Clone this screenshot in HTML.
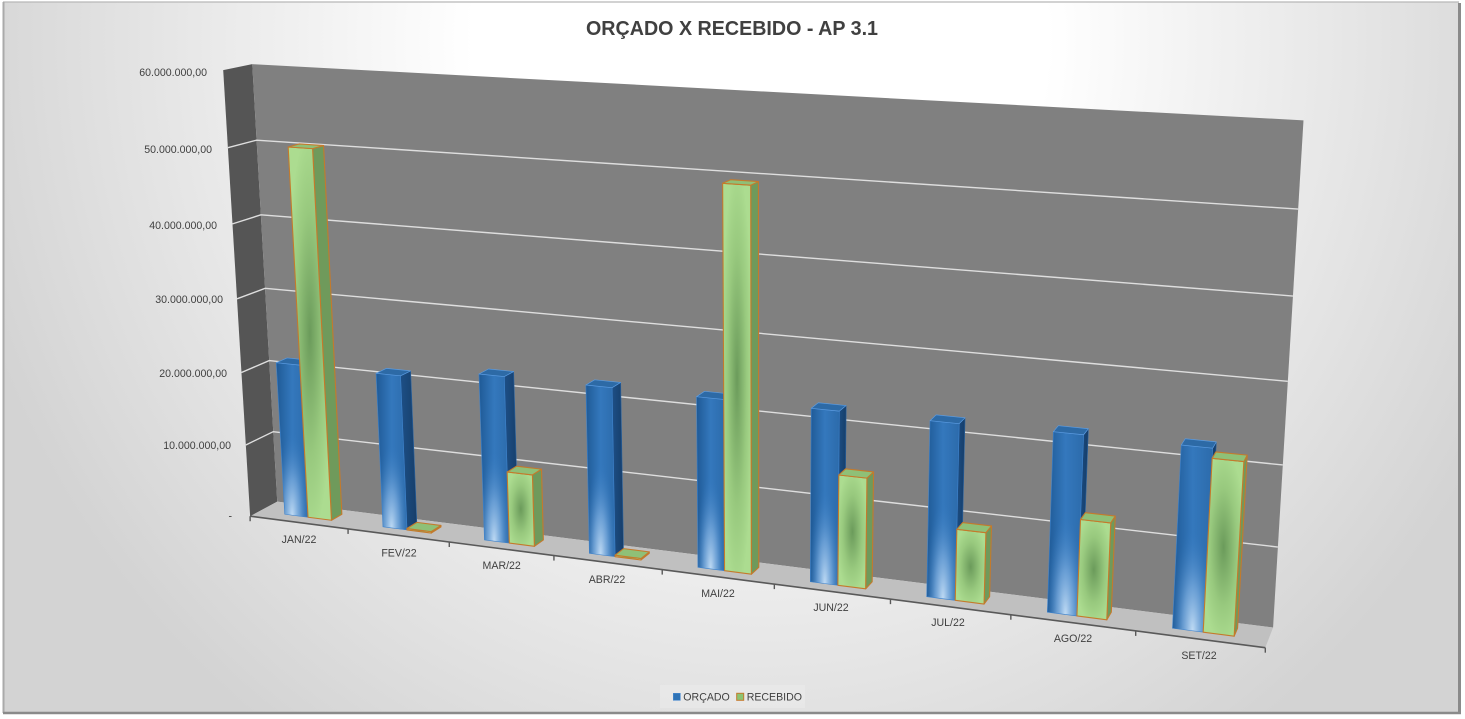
<!DOCTYPE html>
<html><head><meta charset="utf-8">
<style>
html,body{margin:0;padding:0;background:#fff;}
body{width:1465px;height:719px;overflow:hidden;position:relative;}
svg{position:absolute;left:0;top:0;}
text{font-family:"Liberation Sans",sans-serif;}
</style></head><body>
<svg id="c" width="1465" height="719" viewBox="0 0 1465 719" xmlns="http://www.w3.org/2000/svg">
<defs>
 <radialGradient id="bg" gradientUnits="userSpaceOnUse" cx="760" cy="40" r="820" gradientTransform="translate(760 40) scale(1 1.05) translate(-760 -40)">
  <stop offset="0" stop-color="#ffffff"/><stop offset="0.35" stop-color="#ffffff"/><stop offset="1" stop-color="#d3d3d3"/>
 </radialGradient>
 <linearGradient id="bf" x1="0" y1="0" x2="1" y2="0">
  <stop offset="0" stop-color="#1f5a96"/><stop offset="0.5" stop-color="#3478bd"/><stop offset="1" stop-color="#2c6bab"/>
 </linearGradient>
 <radialGradient id="bh" cx="0.5" cy="1" r="0.55">
  <stop offset="0" stop-color="#c3ddf5" stop-opacity="1"/><stop offset="0.45" stop-color="#7eaedf" stop-opacity="0.7"/><stop offset="1" stop-color="#3478bd" stop-opacity="0"/>
 </radialGradient>
 <linearGradient id="bs" x1="0" y1="0" x2="1" y2="0">
  <stop offset="0" stop-color="#1d4f86"/><stop offset="1" stop-color="#163e6a"/>
 </linearGradient>
 <radialGradient id="gf" cx="0.5" cy="0.5" r="0.55">
  <stop offset="0" stop-color="#6b9b5b"/><stop offset="0.6" stop-color="#98c97e"/><stop offset="1" stop-color="#acdc90"/>
 </radialGradient>
</defs>
<rect x="0" y="0" width="1465" height="719" fill="#ffffff"/>
<rect x="3" y="2" width="1456" height="711" fill="url(#bg)"/>
<line x1="3" y1="2" x2="1459" y2="2" stroke="#b8b8b8" stroke-width="1.2"/>
<line x1="3.5" y1="2" x2="3.5" y2="713" stroke="#aaaaaa" stroke-width="2"/>
<line x1="1459.5" y1="3" x2="1459.5" y2="714" stroke="#8a8a8a" stroke-width="3"/>
<line x1="3" y1="713" x2="1461" y2="713" stroke="#8a8a8a" stroke-width="2.5"/>
<g id="chart"></g>
<text x="732" y="35" text-anchor="middle" font-size="20" font-weight="bold" fill="#404040" textLength="292" lengthAdjust="spacingAndGlyphs">ORÇADO X RECEBIDO - AP 3.1</text>
<g font-size="10.6" fill="#404040" text-anchor="end">
 <text x="207" y="75.8">60.000.000,00</text>
 <text x="212" y="152.8">50.000.000,00</text>
 <text x="217" y="228.8">40.000.000,00</text>
 <text x="223" y="302.8">30.000.000,00</text>
 <text x="227" y="377">20.000.000,00</text>
 <text x="231" y="448.8">10.000.000,00</text>
 <text x="232" y="519.5">-</text>
</g>
<g font-size="10.6" fill="#404040" text-anchor="middle">
 <text x="299" y="542.8">JAN/22</text>
 <text x="399" y="556.3">FEV/22</text>
 <text x="501.7" y="568.8">MAR/22</text>
 <text x="607" y="582.8">ABR/22</text>
 <text x="718" y="596.8">MAI/22</text>
 <text x="831" y="610.8">JUN/22</text>
 <text x="948" y="625.8">JUL/22</text>
 <text x="1073" y="641.8">AGO/22</text>
 <text x="1199" y="658.8">SET/22</text>
</g>
<rect x="660" y="685" width="145" height="23" fill="#ebebeb" opacity="0.6"/>
<rect x="673.3" y="693.3" width="7" height="7" fill="#2e73b6" stroke="#4a8ad0" stroke-width="0.6"/>
<text x="683.3" y="700.5" font-size="10.6" fill="#404040">ORÇADO</text>
<rect x="736.7" y="693.3" width="7" height="7" fill="#8cc472" stroke="#c47a2c" stroke-width="1"/>
<text x="746.7" y="700.5" font-size="10.6" fill="#404040">RECEBIDO</text>
</svg>
<script>
(function(){
var P=[[0,6,1,252,65],[0,5,1,257,140],[0,4,1,260,215],[0,3,1,265,288.3],[0,2,1,268.3,360],[0,1,1,275,431.7],[0,0,1,276.7,501.7],
[9,6,1,1304,121],[9,5,1,1298,209],[9,4,1,1293,296],[9,3,1,1288,381],[9,0,1,1273,627],
[0,0,0,250,517],[1,0,0,348,530],[2,0,0,450,541.7],[3,0,0,553,556.7],[5,0,0,774,585],[7,0,0,1011,615],[8,0,0,1135,631],[9,0,0,1265.7,646.7],
[0,6,0,223,71],[0,5,0,228.3,147.3],[0,4,0,232.3,222.7],[0,3,0,236.7,298.3],[0,2,0,241.7,371.7],[0,1,0,246.7,444]];
var n=11,M=[],B=[],i,j;
for(i=0;i<n;i++){var row=[];for(j=0;j<n;j++)row.push(0);M.push(row);B.push(0);}
function add(r,t){for(var i=0;i<n;i++){B[i]+=r[i]*t;for(var j=0;j<n;j++)M[i][j]+=r[i]*r[j];}}
P.forEach(function(p){var X=p[0],Y=p[1],Z=p[2],u=p[3]/1000,v=p[4]/1000;
 add([X,Y,Z,1,0,0,0,0,-u*X,-u*Y,-u*Z],u);
 add([0,0,0,0,X,Y,Z,1,-v*X,-v*Y,-v*Z],v);});
for(var c=0;c<n;c++){var piv=c;for(var r=c+1;r<n;r++)if(Math.abs(M[r][c])>Math.abs(M[piv][c]))piv=r;
 var tm=M[c];M[c]=M[piv];M[piv]=tm;var tb=B[c];B[c]=B[piv];B[piv]=tb;
 for(var r2=c+1;r2<n;r2++){var f=M[r2][c]/M[c][c];for(var k=c;k<n;k++)M[r2][k]-=f*M[c][k];B[r2]-=f*B[c];}}
var x=new Array(n);
for(var r3=n-1;r3>=0;r3--){var s=B[r3];for(var k2=r3+1;k2<n;k2++)s-=M[r3][k2]*x[k2];x[r3]=s/M[r3][r3];}
function pr(X,Y,Z){var w=x[8]*X+x[9]*Y+x[10]*Z+1;return[1000*(x[0]*X+x[1]*Y+x[2]*Z+x[3])/w,1000*(x[4]*X+x[5]*Y+x[6]*Z+x[7])/w];}
var NS="http://www.w3.org/2000/svg",g=document.getElementById('chart');
function el(name,attrs){var e=document.createElementNS(NS,name);for(var k in attrs)e.setAttribute(k,attrs[k]);g.appendChild(e);return e;}
function pts(a){return a.map(function(p){return p[0].toFixed(2)+','+p[1].toFixed(2);}).join(' ');}
function poly(a,attrs){attrs.points=pts(a);return el('polygon',attrs);}
// walls
poly([pr(0,0,0),pr(0,6,0),pr(0,6,1),pr(0,0,1)],{fill:'#555555'});
poly([pr(0,0,1),pr(0,6,1),pr(9,6,1),pr(9,0,1)],{fill:'#808080'});
poly([pr(0,0,0),pr(9,0,0),pr(9,0,1),pr(0,0,1)],{fill:'#c0c0c0'});
for(var k=1;k<=5;k++){el('polyline',{points:pts([pr(0,k,0),pr(0,k,1),pr(9,k,1)]),fill:'none',stroke:'#dedede','stroke-width':1.4});}
var a0=pr(0,0,0),a9=pr(9,0,0);
el('line',{x1:a0[0],y1:a0[1],x2:a9[0],y2:a9[1],stroke:'#595959','stroke-width':1.6});
for(k=0;k<=9;k++){var t=pr(k,0,0);el('line',{x1:t[0],y1:t[1],x2:t[0],y2:t[1]+5,stroke:'#595959','stroke-width':1.4});}
// bars
var A=0.26,W=0.24,Z0=0.35,Z1=0.75;
var blueT=[362.7,373.3,374,385,396.7,408.3,420.7,431.7,445];
var greenT=[147,null,472,null,183.3,475,529.3,519.5,458.3];
function solveY(X,Z,v){var lo=0,hi=7;for(var it=0;it<50;it++){var m=(lo+hi)/2;if(pr(X,m,Z)[1]>v)lo=m;else hi=m;}return (lo+hi)/2;}
function bar(x0,x1,Y,blue){
 var f=[pr(x0,0,Z0),pr(x1,0,Z0),pr(x1,Y,Z0),pr(x0,Y,Z0)];
 var sd=[pr(x1,0,Z0),pr(x1,0,Z1),pr(x1,Y,Z1),pr(x1,Y,Z0)];
 var tp=[pr(x0,Y,Z0),pr(x1,Y,Z0),pr(x1,Y,Z1),pr(x0,Y,Z1)];
 if(blue){
  poly(sd,{fill:'url(#bs)',stroke:'#2a64a3','stroke-width':0.6,'stroke-linejoin':'round'});
  poly(f,{fill:'url(#bf)'});
  poly(f,{fill:'url(#bh)',stroke:'#3f83cc','stroke-width':0.6});
  poly(tp,{fill:'#2d6aa6',stroke:'#5b9be0','stroke-width':0.7,'stroke-linejoin':'round'});
 } else {
  poly(sd,{fill:'#6f9a5b',stroke:'#c47a2c','stroke-width':1.1,'stroke-linejoin':'round'});
  poly(f,{fill:'url(#gf)',stroke:'#c47a2c','stroke-width':1.1,'stroke-linejoin':'round'});
  poly(tp,{fill:'#8fc077',stroke:'#c47a2c','stroke-width':1.1,'stroke-linejoin':'round'});
 }
}
for(i=0;i<9;i++){
 var xb=i+A,xg=i+A+W,xe=i+A+2*W;
 var yb=solveY(xb,Z0,blueT[i]);
 bar(xb,xg,yb,true);
 var yg=greenT[i]===null?0.02:solveY(xg,Z0,greenT[i]);
 bar(xg,xe,yg,false);
}
})();
</script>
</body></html>
